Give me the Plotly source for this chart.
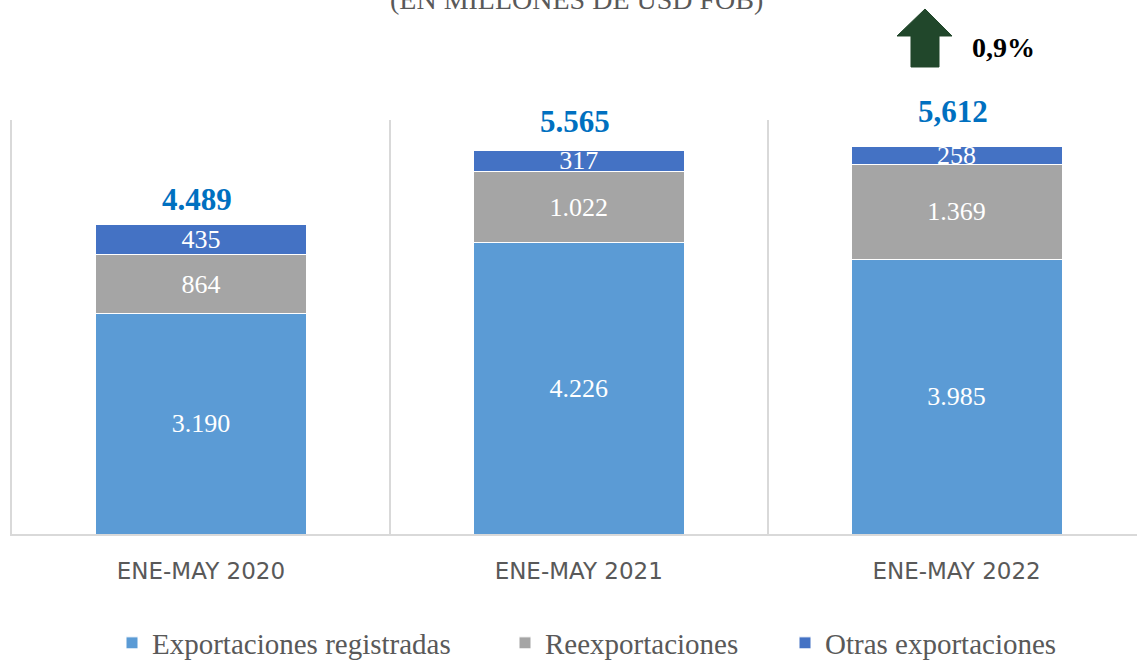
import plotly.graph_objects as go

# ---- data ----
categories = ["ENE-MAY 2020", "ENE-MAY 2021", "ENE-MAY 2022"]
registradas = [3190, 4226, 3985]
reexportaciones = [864, 1022, 1369]
otras = [435, 317, 258]
total_labels = ["4.489", "5.565", "5,612"]
variacion_label = "0,9%"
subtitle = "(EN MILLONES DE USD FOB)"

series_names = ["Exportaciones registradas", "Reexportaciones", "Otras exportaciones"]
series_colors = ["#5B9BD5", "#A5A5A5", "#4472C4"]


def fmt(v):
    return f"{v:,}".replace(",", ".")


W, H = 1137, 661
ML, MT, MB = 12, 120, 127
PW = W - ML
PH = H - MT - MB
YMAX = 6000


def px2paper(X, Y):
    return (X - ML) / PW, (H - MB - Y) / PH


fig = go.Figure()
legend_ids = ["legend", "legend2", "legend3"]
for name, vals, col, lg in zip(series_names, [registradas, reexportaciones, otras],
                               series_colors, legend_ids):
    fig.add_trace(go.Bar(
        x=categories, y=vals, name=name, legend=lg,
        marker=dict(color=col, line=dict(color="white", width=1)),
        text=[fmt(v) for v in vals],
        textposition="inside", insidetextanchor="middle",
        textfont=dict(family="Liberation Serif", size=26, color="white"),
        hoverinfo="skip",
    ))

totals = [a + b + c for a, b, c in zip(registradas, reexportaciones, otras)]
label_lift = [5, 9, 16]
for cat, tot, lab, lift in zip(categories, totals, total_labels, label_lift):
    fig.add_annotation(x=cat, y=tot, text=f"<b>{lab}</b>", showarrow=False,
                       yanchor="bottom", yshift=lift, xshift=-4,
                       font=dict(family="Liberation Serif", size=31, color="#0070C0"))

# subtitle (cropped at the top as in reference)
sx, sy = px2paper(576, 17)
fig.add_annotation(xref="paper", yref="paper", x=sx, y=sy, text=subtitle,
                   showarrow=False, yanchor="bottom", xanchor="center",
                   font=dict(family="Liberation Serif", size=28, color="#595959"))

# growth arrow
pts = [(925, 9), (952, 36), (939, 36), (939, 67), (911, 67), (911, 36), (897, 36)]
pp = [px2paper(X, Y) for X, Y in pts]
path = "M " + " L ".join(f"{x:.5f},{y:.5f}" for x, y in pp) + " Z"
fig.add_shape(type="path", xref="paper", yref="paper", path=path,
              fillcolor="#21472B", line=dict(color="#21472B", width=1))
vx, vy = px2paper(1003, 48)
fig.add_annotation(xref="paper", yref="paper", x=vx, y=vy, text=f"<b>{variacion_label}</b>",
                   showarrow=False, xanchor="center", yanchor="middle",
                   font=dict(family="Liberation Serif", size=28, color="black"))

legend_font = dict(family="Liberation Serif", size=29, color="#595959")
legend_x = [112, 505, 785]
legends = {}
for lg, lx in zip(legend_ids, legend_x):
    legends[lg] = dict(orientation="h", xref="container", yref="container",
                       x=lx / W, y=1 - 643 / H, xanchor="left", yanchor="middle",
                       font=legend_font, bgcolor="rgba(0,0,0,0)")

fig.update_layout(
    width=W, height=H,
    margin=dict(l=ML, r=0, t=MT, b=MB),
    barmode="stack", bargap=0.442,
    plot_bgcolor="white", paper_bgcolor="white",
    uniformtext=dict(minsize=26, mode="show"),
    showlegend=True,
    xaxis=dict(range=[-0.5, 2.4775], tickson="boundaries", showgrid=True,
               gridcolor="#D9D9D9", gridwidth=1.5, ticks="", showline=True,
               linecolor="#D9D9D9", linewidth=1.5, ticklabelstandoff=16,
               tickfont=dict(family="DejaVu Sans", size=23, color="#595959")),
    yaxis=dict(range=[0, YMAX], showgrid=False, showticklabels=False, zeroline=False,
               showline=True, linecolor="#D9D9D9", linewidth=1.5),
    **legends,
)

fig.write_html("out.html", config={"displayModeBar": False},
               post_script="document.body.style.margin='0';")
